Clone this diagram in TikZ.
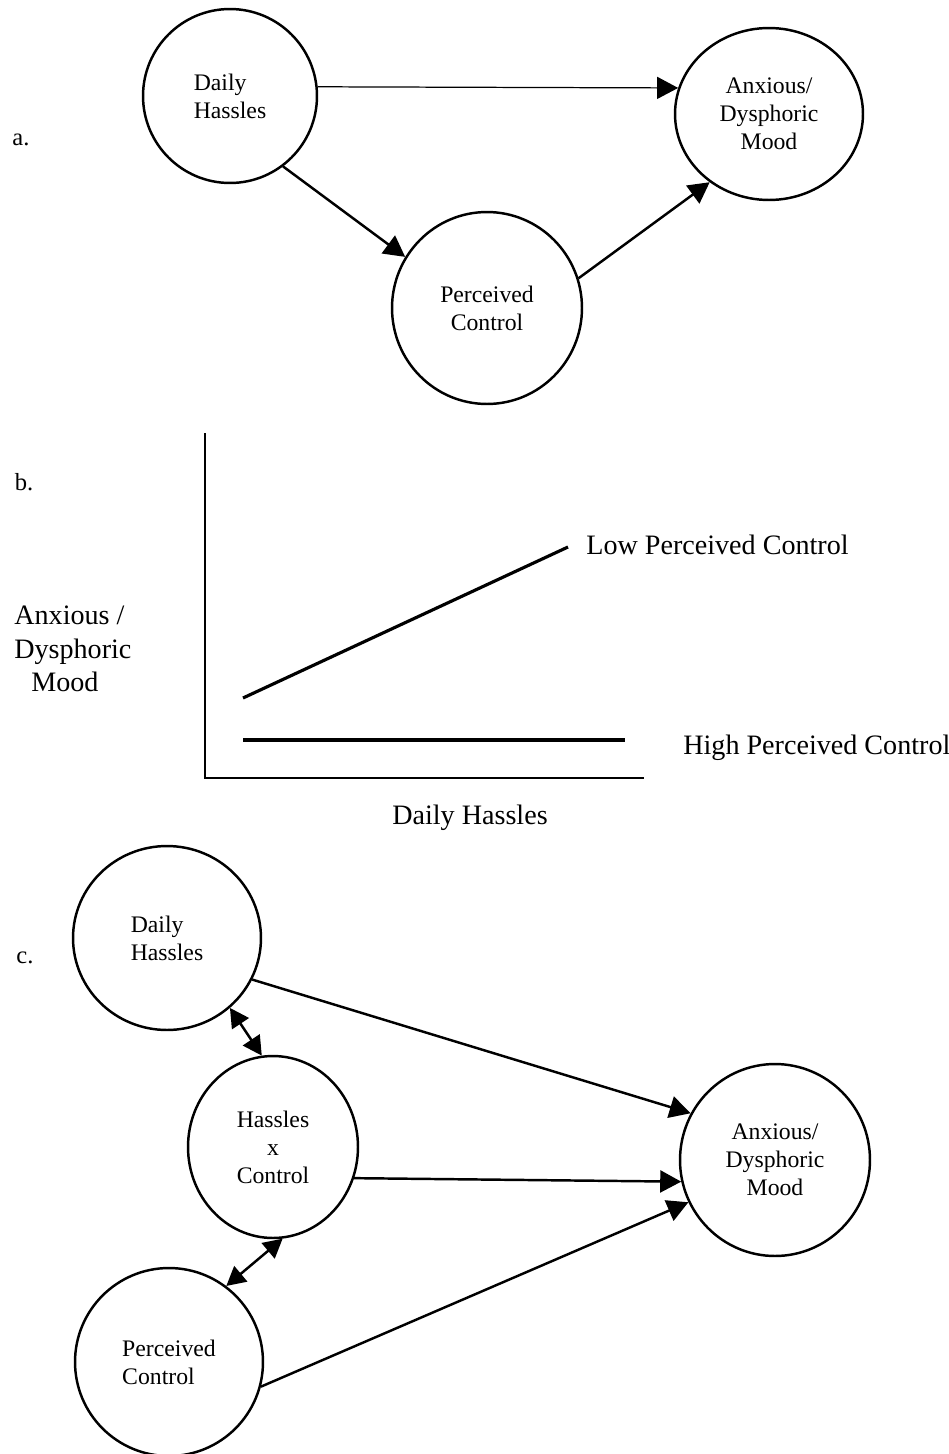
\documentclass[tikz,border=0pt]{standalone}
\usepackage{fontspec}
\setmainfont{Liberation Serif}
\usetikzlibrary{shapes,arrows.meta,positioning,calc}

\begin{document}
\begin{tikzpicture}[
    x=0.02cm, y=-0.02cm,
    var/.style={ellipse, draw, line width=1.4pt, inner sep=0pt, align=center, font=\fontsize{13.5}{16}\selectfont},
    arrow/.style={-{Triangle[length=0.42cm, width=0.44cm]}, line width=1.4pt},
    biarrow/.style={{Triangle[length=0.38cm, width=0.4cm]}-{Triangle[length=0.38cm, width=0.4cm]}, line width=1.4pt},
    panel/.style={font=\fontsize{14}{16}\selectfont},
    axislabel/.style={font=\fontsize{16}{19}\selectfont, inner sep=0pt},
    plotline/.style={line width=1.8pt}
]
    \useasboundingbox (0,0) rectangle (948,1454);

    % Panel a
    \node[panel] (la) at (21,140) {a.};
    \node[var, align=left, minimum width=3.48cm, minimum height=3.48cm] (hassA) at (230,96) {Daily\\Hassles};
    \node[var, minimum width=3.76cm, minimum height=3.44cm] (moodA) at (769,114) {Anxious/\\Dysphoric\\Mood};
    \node[var, minimum width=3.8cm, minimum height=3.84cm] (ctrlA) at (487,308) {Perceived\\Control};

    \draw[arrow, line width=0.7pt] (hassA.6) -- (moodA.164);
    \draw[arrow] (hassA.-53) -- (ctrlA.148);
    \draw[arrow] (ctrlA.18) -- (moodA.-131);

    % Panel b
    \node[panel] (lb) at (24,482) {b.};
    \coordinate (top) at (205,433);
    \coordinate (origin) at (205,778);
    \coordinate (right) at (644,778);
    \draw[line width=1.5pt] (top) -- (origin) -- (right);

    \coordinate (lowA) at (243,698);
    \coordinate (lowB) at (568,547);
    \coordinate (highA) at (243,740);
    \coordinate (highB) at (625,740);
    \draw[plotline] (lowA) -- (lowB);
    \draw[plotline] (highA) -- (highB);

    \node[axislabel, anchor=west, align=left] (ylab) at (14,649) {Anxious /\\Dysphoric\\\hspace*{0.34cm}Mood};
    \node[axislabel] (xlab) at (470,818) {Daily Hassles};
    \node[axislabel, anchor=west] (low) at (586,545) {Low Perceived Control};
    \node[axislabel, anchor=west] (high) at (683,748) {High Perceived Control};

    % Panel c
    \node[panel] (lc) at (25,958) {c.};
    \node[var, align=left, minimum width=3.76cm, minimum height=3.68cm] (hassC) at (167,938) {Daily\\Hassles};
    \node[var, minimum width=3.4cm, minimum height=3.64cm] (inter) at (273,1147) {Hassles\\x\\Control};
    \node[var, align=left, minimum width=3.76cm, minimum height=3.76cm] (ctrlC) at (169,1362) {Perceived\\Control};
    \node[var, minimum width=3.8cm, minimum height=3.84cm] (moodC) at (775,1160) {Anxious/\\Dysphoric\\Mood};

    \draw[arrow] (hassC.-26) -- (moodC.151);
    \draw[arrow] (inter.-21) -- (moodC.-167);
    \draw[arrow] (ctrlC.-15) -- (moodC.-154);
    \draw[biarrow] (hassC.-48) -- (inter.97);
    \draw[biarrow] (inter.-84) -- (ctrlC.53);

\end{tikzpicture}
\end{document}
